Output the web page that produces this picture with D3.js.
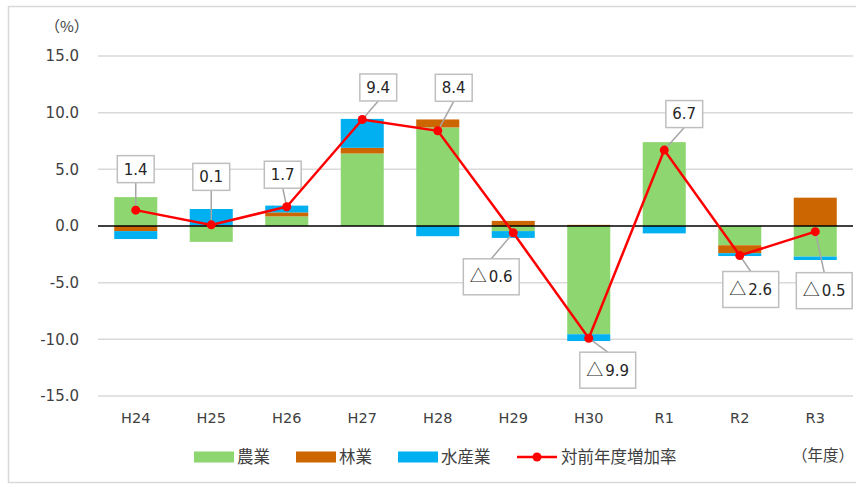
<!DOCTYPE html>
<html>
<head>
<meta charset="utf-8">
<script src="https://cdn.jsdelivr.net/npm/d3@7"></script>
<style>
  body { margin: 0; background: #fff; }
  text { font-family: "DejaVu Sans", "Noto Sans CJK JP", sans-serif; }
  .cjk { font-family: "Noto Sans CJK JP", sans-serif; }
</style>
</head>
<body>
<div id="bdy"></div>
<script>
var width = 856;
var height = 485;

// fiscal years
var years = ["H24", "H25", "H26", "H27", "H28", "H29", "H30", "R1", "R2", "R3"];
// contribution by sector (%)
var agri    = [2.55, -1.4, 0.85, 6.4, 8.7, -0.45, -9.55, 7.4, -1.7, -2.7];
var forest  = [-0.45, 0.05, 0.35, 0.5, 0.7, 0.45, 0.1, 0, -0.7, 2.5];
var fish    = [-0.7, 1.45, 0.6, 2.55, -0.9, -0.6, -0.6, -0.65, -0.25, -0.3];
// year-on-year growth rate (%)
var growth  = [1.4, 0.1, 1.7, 9.4, 8.4, -0.6, -9.9, 6.7, -2.6, -0.5];
var yTicks  = [-15, -10, -5, 0, 5, 10, 15];
var seriesNames = ["農業", "林業", "水産業"];
var lineName = "対前年度増加率";

// where each data label box sits relative to its point (layout only)
var labelOffsets = [[0,-41],[0,-48],[-4,-32],[16,-32],[16,-43],[-22,44],[19,32],[20,-36],[11,34],[9,59]];

var colors = {"農業": "#8ed66f", "林業": "#cc6600", "水産業": "#00b0f0"};

var margin = {top: 56, right: 3, bottom: 89, left: 98};

var svg = d3.select('#bdy').append('svg')
    .attr('width', width)
    .attr('height', height);

// outer frame
svg.append('rect')
    .attr('x', 8.5).attr('y', 6.5)
    .attr('width', 860).attr('height', 476)
    .attr('fill', 'none')
    .attr('stroke', '#d9d9d9')
    .attr('stroke-width', 1.5);

var xScale = d3.scaleBand()
    .domain(years)
    .range([margin.left, width - margin.right])
    .paddingInner(0.43)
    .paddingOuter(0.215);

var yScale = d3.scaleLinear()
    .domain([-15, 15])
    .range([height - margin.bottom, margin.top]);

var fmt = function(v){ return d3.format('.1f')(v).replace('−', '-'); };

// gridlines + y labels
svg.append('g').selectAll('line')
    .data(yTicks.filter(function(d){ return d != 0; }))
    .enter().append('line')
    .attr('x1', margin.left).attr('x2', width - margin.right)
    .attr('y1', function(d){ return yScale(d); })
    .attr('y2', function(d){ return yScale(d); })
    .attr('stroke', '#d9d9d9')
    .attr('stroke-width', 1.5);

svg.append('g').selectAll('text')
    .data(yTicks)
    .enter().append('text')
    .attr('x', 79)
    .attr('y', function(d){ return yScale(d); })
    .attr('dy', '0.36em')
    .attr('text-anchor', 'end')
    .style('font-size', '15px')
    .attr('fill', '#404040')
    .text(fmt);

svg.append('text')
    .attr('class', 'cjk')
    .attr('x', 45).attr('y', 27)
    .attr('dy', '0.36em')
    .style('font-size', '15px')
    .attr('fill', '#404040')
    .text('（%）');

// stacked bars
var table = years.map(function(y, i){
    return {year: y, "農業": agri[i], "林業": forest[i], "水産業": fish[i]};
});
var stack = d3.stack().keys(seriesNames).offset(d3.stackOffsetDiverging);
var layers = stack(table);

svg.append('g').selectAll('g')
    .data(layers)
    .enter().append('g')
    .attr('fill', function(d){ return colors[d.key]; })
    .selectAll('rect')
    .data(function(d){ return d; })
    .enter().append('rect')
    .attr('x', function(d){ return xScale(d.data.year); })
    .attr('width', xScale.bandwidth())
    .attr('y', function(d){ return yScale(Math.max(d[0], d[1])); })
    .attr('height', function(d){ return Math.abs(yScale(d[0]) - yScale(d[1])); });

// zero line
svg.append('line')
    .attr('x1', margin.left).attr('x2', width - margin.right)
    .attr('y1', yScale(0)).attr('y2', yScale(0))
    .attr('stroke', '#000')
    .attr('stroke-width', 1.5);

// x labels
svg.append('g').selectAll('text')
    .data(years)
    .enter().append('text')
    .attr('x', function(d){ return xScale(d) + xScale.bandwidth()/2; })
    .attr('y', 418)
    .attr('dy', '0.36em')
    .attr('text-anchor', 'middle')
    .style('font-size', '14.5px')
    .attr('fill', '#404040')
    .text(function(d){ return d; });

// growth line
var cx = function(i){ return xScale(years[i]) + xScale.bandwidth()/2; };
var line = d3.line()
    .x(function(d, i){ return cx(i); })
    .y(function(d){ return yScale(d); });

// leader lines + label boxes
var labels = svg.append('g');
growth.forEach(function(v, i){
    var px = cx(i), py = yScale(v);
    var bx = px + labelOffsets[i][0], by = py + labelOffsets[i][1];
    var g = labels.append('g');
    var lead = g.append('line')
        .attr('stroke', '#a6a6a6')
        .attr('stroke-width', 1.5);
    var rect = g.append('rect')
        .attr('fill', '#fff')
        .attr('stroke', '#bfbfbf')
        .attr('stroke-width', 1.5);
    var t = g.append('text')
        .attr('x', bx).attr('y', by)
        .attr('dy', '0.36em')
        .attr('text-anchor', 'middle')
        .style('font-size', '15px')
        .attr('fill', '#262626');
    if (v < 0) {
        t.append('tspan').attr('class', 'cjk').style('font-size', '17px').text('△');
        t.append('tspan').attr('dx', 2).text(fmt(-v));
    } else {
        t.text(fmt(v));
    }
    var bb = t.node().getBBox();
    var w = bb.width + 13, h = v < 0 ? 36 : 27;
    rect.attr('x', bx - w/2).attr('y', by - h/2).attr('width', w).attr('height', h);
    var ey = by + (labelOffsets[i][1] < 0 ? h/2 : -h/2);
    lead.attr('x1', px).attr('y1', py).attr('x2', bx).attr('y2', ey);
});

svg.append('path')
    .datum(growth)
    .attr('d', line)
    .attr('fill', 'none')
    .attr('stroke', '#ff0000')
    .attr('stroke-width', 2.5);

svg.append('g').selectAll('circle')
    .data(growth)
    .enter().append('circle')
    .attr('cx', function(d, i){ return cx(i); })
    .attr('cy', function(d){ return yScale(d); })
    .attr('r', 4.5)
    .attr('fill', '#ff0000');

// legend
var legY = 457;
var legend = svg.append('g');
var legX = [194, 296, 398];
seriesNames.forEach(function(name, i){
    legend.append('rect')
        .attr('x', legX[i]).attr('y', legY - 5.5)
        .attr('width', 40).attr('height', 11)
        .attr('fill', colors[name]);
    legend.append('text')
        .attr('class', 'cjk')
        .attr('x', legX[i] + 43).attr('y', legY)
        .attr('dy', '0.36em')
        .style('font-size', '16.5px')
        .attr('fill', '#404040')
        .text(name);
});
legend.append('line')
    .attr('x1', 517).attr('x2', 557)
    .attr('y1', legY).attr('y2', legY)
    .attr('stroke', '#ff0000').attr('stroke-width', 2.5);
legend.append('circle')
    .attr('cx', 537).attr('cy', legY).attr('r', 4.5)
    .attr('fill', '#ff0000');
legend.append('text')
    .attr('class', 'cjk')
    .attr('x', 561).attr('y', legY)
    .attr('dy', '0.36em')
    .style('font-size', '16.5px')
    .attr('fill', '#404040')
    .text(lineName);

svg.append('text')
    .attr('class', 'cjk')
    .attr('x', 792).attr('y', 455)
    .attr('dy', '0.36em')
    .style('font-size', '15.5px')
    .attr('fill', '#404040')
    .text('（年度）');
</script>
</body>
</html>
